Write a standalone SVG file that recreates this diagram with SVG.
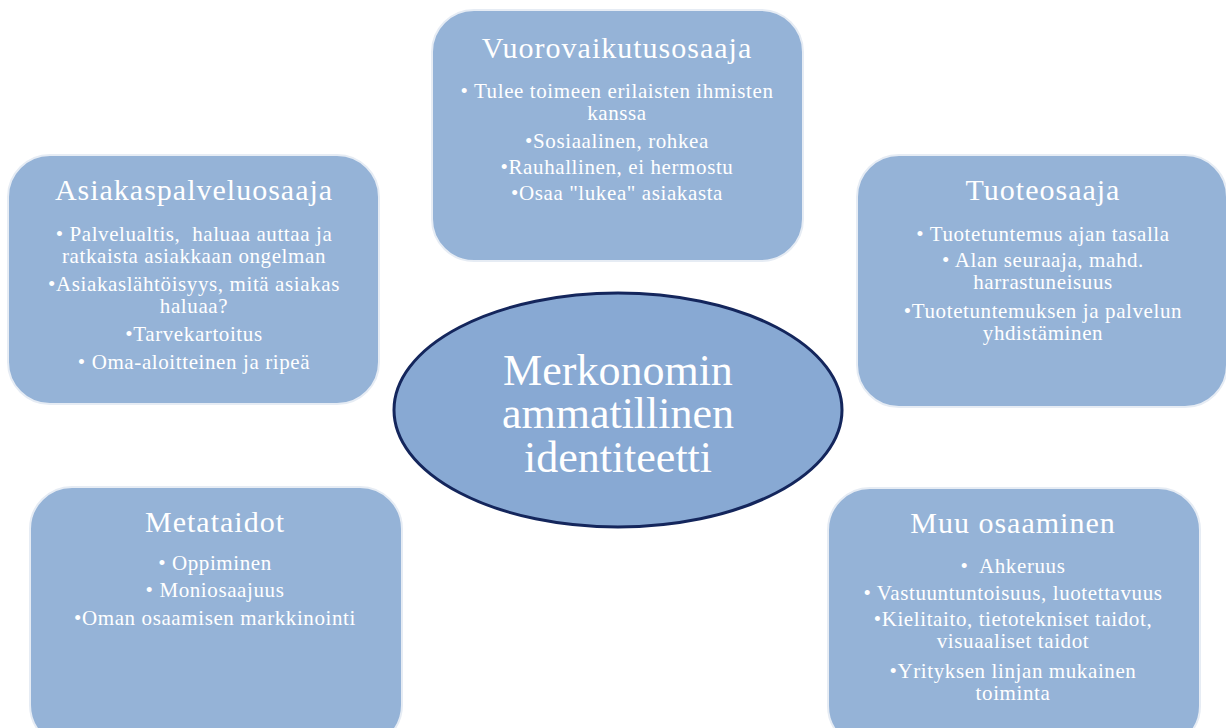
<svg xmlns="http://www.w3.org/2000/svg" width="1226" height="728" viewBox="0 0 1226 728">
<style>
.box{fill:#95b3d7;stroke:#e6ecf4;stroke-width:2}
.t{font-family:"Liberation Serif","Times New Roman",serif;fill:#ffffff;text-anchor:middle;white-space:pre}
.h{font-size:30px;letter-spacing:1px}
.b{font-size:21px;letter-spacing:0.6px}
.c{font-size:44px}
</style>
<rect width="1226" height="728" fill="#ffffff"/>
<g id="connectors"></g>
<g id="vuorovaikutus">
<rect class="box" x="432" y="10" width="371" height="251" rx="42"/>
<text class="t h" x="617" y="58">Vuorovaikutusosaaja</text>
<text class="t b" x="617" y="98">• Tulee toimeen erilaisten ihmisten</text>
<text class="t b" x="617" y="120">kanssa</text>
<text class="t b" x="617" y="148">•Sosiaalinen, rohkea</text>
<text class="t b" x="617" y="174">•Rauhallinen, ei hermostu</text>
<text class="t b" x="617" y="200">•Osaa "lukea" asiakasta</text>
</g>
<g id="asiakaspalvelu">
<rect class="box" x="8" y="155" width="371" height="249" rx="42"/>
<text class="t h" x="194" y="200">Asiakaspalveluosaaja</text>
<text class="t b" x="194" y="241" xml:space="preserve">• Palvelualtis,  haluaa auttaa ja</text>
<text class="t b" x="194" y="263">ratkaista asiakkaan ongelman</text>
<text class="t b" x="194" y="291">•Asiakaslähtöisyys, mitä asiakas</text>
<text class="t b" x="194" y="313">haluaa?</text>
<text class="t b" x="194" y="341">•Tarvekartoitus</text>
<text class="t b" x="194" y="369">• Oma-aloitteinen ja ripeä</text>
</g>
<g id="tuoteosaaja">
<rect class="box" x="857" y="155" width="370" height="252" rx="42"/>
<text class="t h" x="1043" y="200">Tuoteosaaja</text>
<text class="t b" x="1043" y="241">• Tuotetuntemus ajan tasalla</text>
<text class="t b" x="1043" y="267">• Alan seuraaja, mahd.</text>
<text class="t b" x="1043" y="289">harrastuneisuus</text>
<text class="t b" x="1043" y="318">•Tuotetuntemuksen ja palvelun</text>
<text class="t b" x="1043" y="340">yhdistäminen</text>
</g>
<g id="metataidot">
<rect class="box" x="30" y="487" width="372" height="260" rx="42"/>
<text class="t h" x="215" y="532">Metataidot</text>
<text class="t b" x="215" y="570">• Oppiminen</text>
<text class="t b" x="215" y="597">• Moniosaajuus</text>
<text class="t b" x="215" y="625">•Oman osaamisen markkinointi</text>
</g>
<g id="muu">
<rect class="box" x="828" y="488" width="372" height="260" rx="42"/>
<text class="t h" x="1013" y="533">Muu osaaminen</text>
<text class="t b" x="1013" y="573" xml:space="preserve">•  Ahkeruus</text>
<text class="t b" x="1013" y="600">• Vastuuntuntoisuus, luotettavuus</text>
<text class="t b" x="1013" y="626">•Kielitaito, tietotekniset taidot,</text>
<text class="t b" x="1013" y="648">visuaaliset taidot</text>
<text class="t b" x="1013" y="678">•Yrityksen linjan mukainen</text>
<text class="t b" x="1013" y="700">toiminta</text>
</g>
<g id="center">
<ellipse cx="618" cy="410" rx="224" ry="117" fill="#88a9d3" stroke="#14265c" stroke-width="3"/>
<text class="t c" x="618" y="385">Merkonomin</text>
<text class="t c" x="618" y="428">ammatillinen</text>
<text class="t c" x="618" y="472">identiteetti</text>
</g>
</svg>
